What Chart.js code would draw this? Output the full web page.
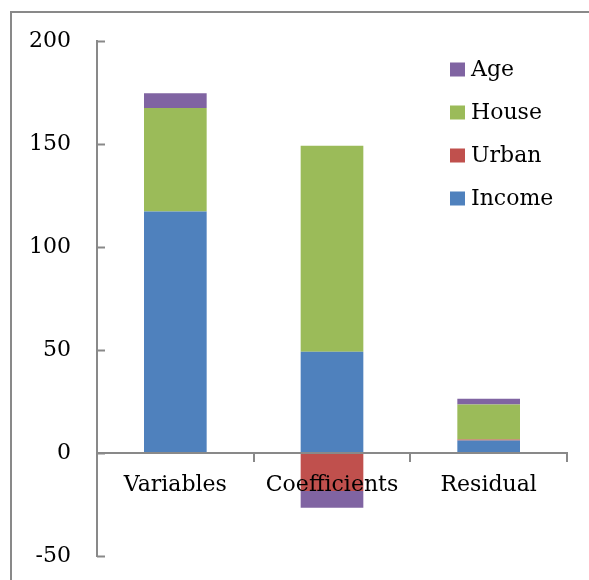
<!DOCTYPE html>
<html>
<head>
<meta charset="utf-8">
<script src="https://cdn.jsdelivr.net/npm/chart.js@4/dist/chart.umd.min.js"></script>
<style>
  html, body { margin: 0; padding: 0; background: #fff; overflow: hidden; }
  #chart { display: block; }
</style>
</head>
<body>
<canvas id="chart" width="589" height="580"></canvas>
<script>
const categories = ['Variables', 'Coefficients', 'Residual'];
const income = [117.2, 49.2, 6.1];
const urban = [0, -18.5, 0.4];
const house = [50.3, 99.9, 17.0];
const age = [7.1, -8.1, 2.8];
const yTicks = [-50, 0, 50, 100, 150, 200];

const FONT = 'DejaVu Serif';
const AXIS = '#898989';

// outer chart-area border (only left and top edges are inside the picture)
const outerFrame = {
  id: 'outerFrame',
  beforeDraw(chart) {
    const ctx = chart.ctx;
    ctx.save();
    ctx.fillStyle = AXIS;
    ctx.fillRect(10, 11, 2, chart.height - 11);
    ctx.fillRect(10, 11, chart.width - 10, 2);
    ctx.restore();
  }
};

// legend drawn over the plot, top right, in reverse order like Excel
const sideLegend = {
  id: 'sideLegend',
  afterDraw(chart) {
    const ctx = chart.ctx;
    const sets = chart.data.datasets.slice().reverse();
    ctx.save();
    ctx.font = '22px "' + FONT + '"';
    ctx.textBaseline = 'middle';
    sets.forEach((ds, i) => {
      const cy = 69.5 + i * 43;
      ctx.fillStyle = ds.backgroundColor;
      ctx.fillRect(450, cy - 7, 15, 14);
      ctx.fillStyle = '#000';
      ctx.fillText(ds.label, 471, cy + 1);
    });
    ctx.restore();
  }
};

// short tick marks on the inside of the value axis
const innerTicks = {
  id: 'innerTicks',
  afterDraw(chart) {
    const y = chart.scales.y;
    const left = chart.chartArea.left;
    const ctx = chart.ctx;
    ctx.save();
    ctx.strokeStyle = AXIS;
    ctx.lineWidth = 2;
    y.ticks.forEach(t => {
      const py = Math.round(y.getPixelForValue(t.value)) + 0.5;
      ctx.beginPath();
      ctx.moveTo(left, py);
      ctx.lineTo(left + 8, py);
      ctx.stroke();
    });
    ctx.beginPath();
    ctx.restore();
  }
};

new Chart(document.getElementById('chart'), {
  type: 'bar',
  data: {
    labels: categories,
    datasets: [
      { label: 'Income', data: income, backgroundColor: '#4F81BD' },
      { label: 'Urban', data: urban, backgroundColor: '#C0504D' },
      { label: 'House', data: house, backgroundColor: '#9BBB59' },
      { label: 'Age', data: age, backgroundColor: '#8064A2' }
    ]
  },
  options: {
    responsive: false,
    animation: false,
    layout: { padding: { top: 41, right: 22, bottom: 24, left: 0 } },
    datasets: { bar: { barPercentage: 0.5, categoryPercentage: 0.8 } },
    plugins: { legend: { display: false }, tooltip: { enabled: false } },
    scales: {
      x: {
        stacked: true,
        position: { y: 0 },
        afterFit(scale) { scale.height = 0; },
        grid: { z: 1, drawOnChartArea: false, drawTicks: true, tickLength: 8, color: AXIS, lineWidth: 2, offset: true },
        border: { z: 1, color: AXIS, width: 2 },
        ticks: { z: 1, color: '#000', font: { family: FONT, size: 22 }, padding: 11 }
      },
      y: {
        stacked: true,
        min: -50,
        max: 200,
        afterBuildTicks(scale) { scale.ticks = yTicks.map(v => ({ value: v })); },
        afterFit(scale) {
          scale.width = 97;
          scale.paddingTop = 0;
          scale.paddingBottom = 0;
        },
        grid: { drawOnChartArea: false, drawTicks: false },
        border: { color: AXIS, width: 2 },
        ticks: { color: '#000', font: { family: FONT, size: 22 }, padding: 26 }
      }
    }
  },
  plugins: [outerFrame, sideLegend, innerTicks]
});
</script>
</body>
</html>
